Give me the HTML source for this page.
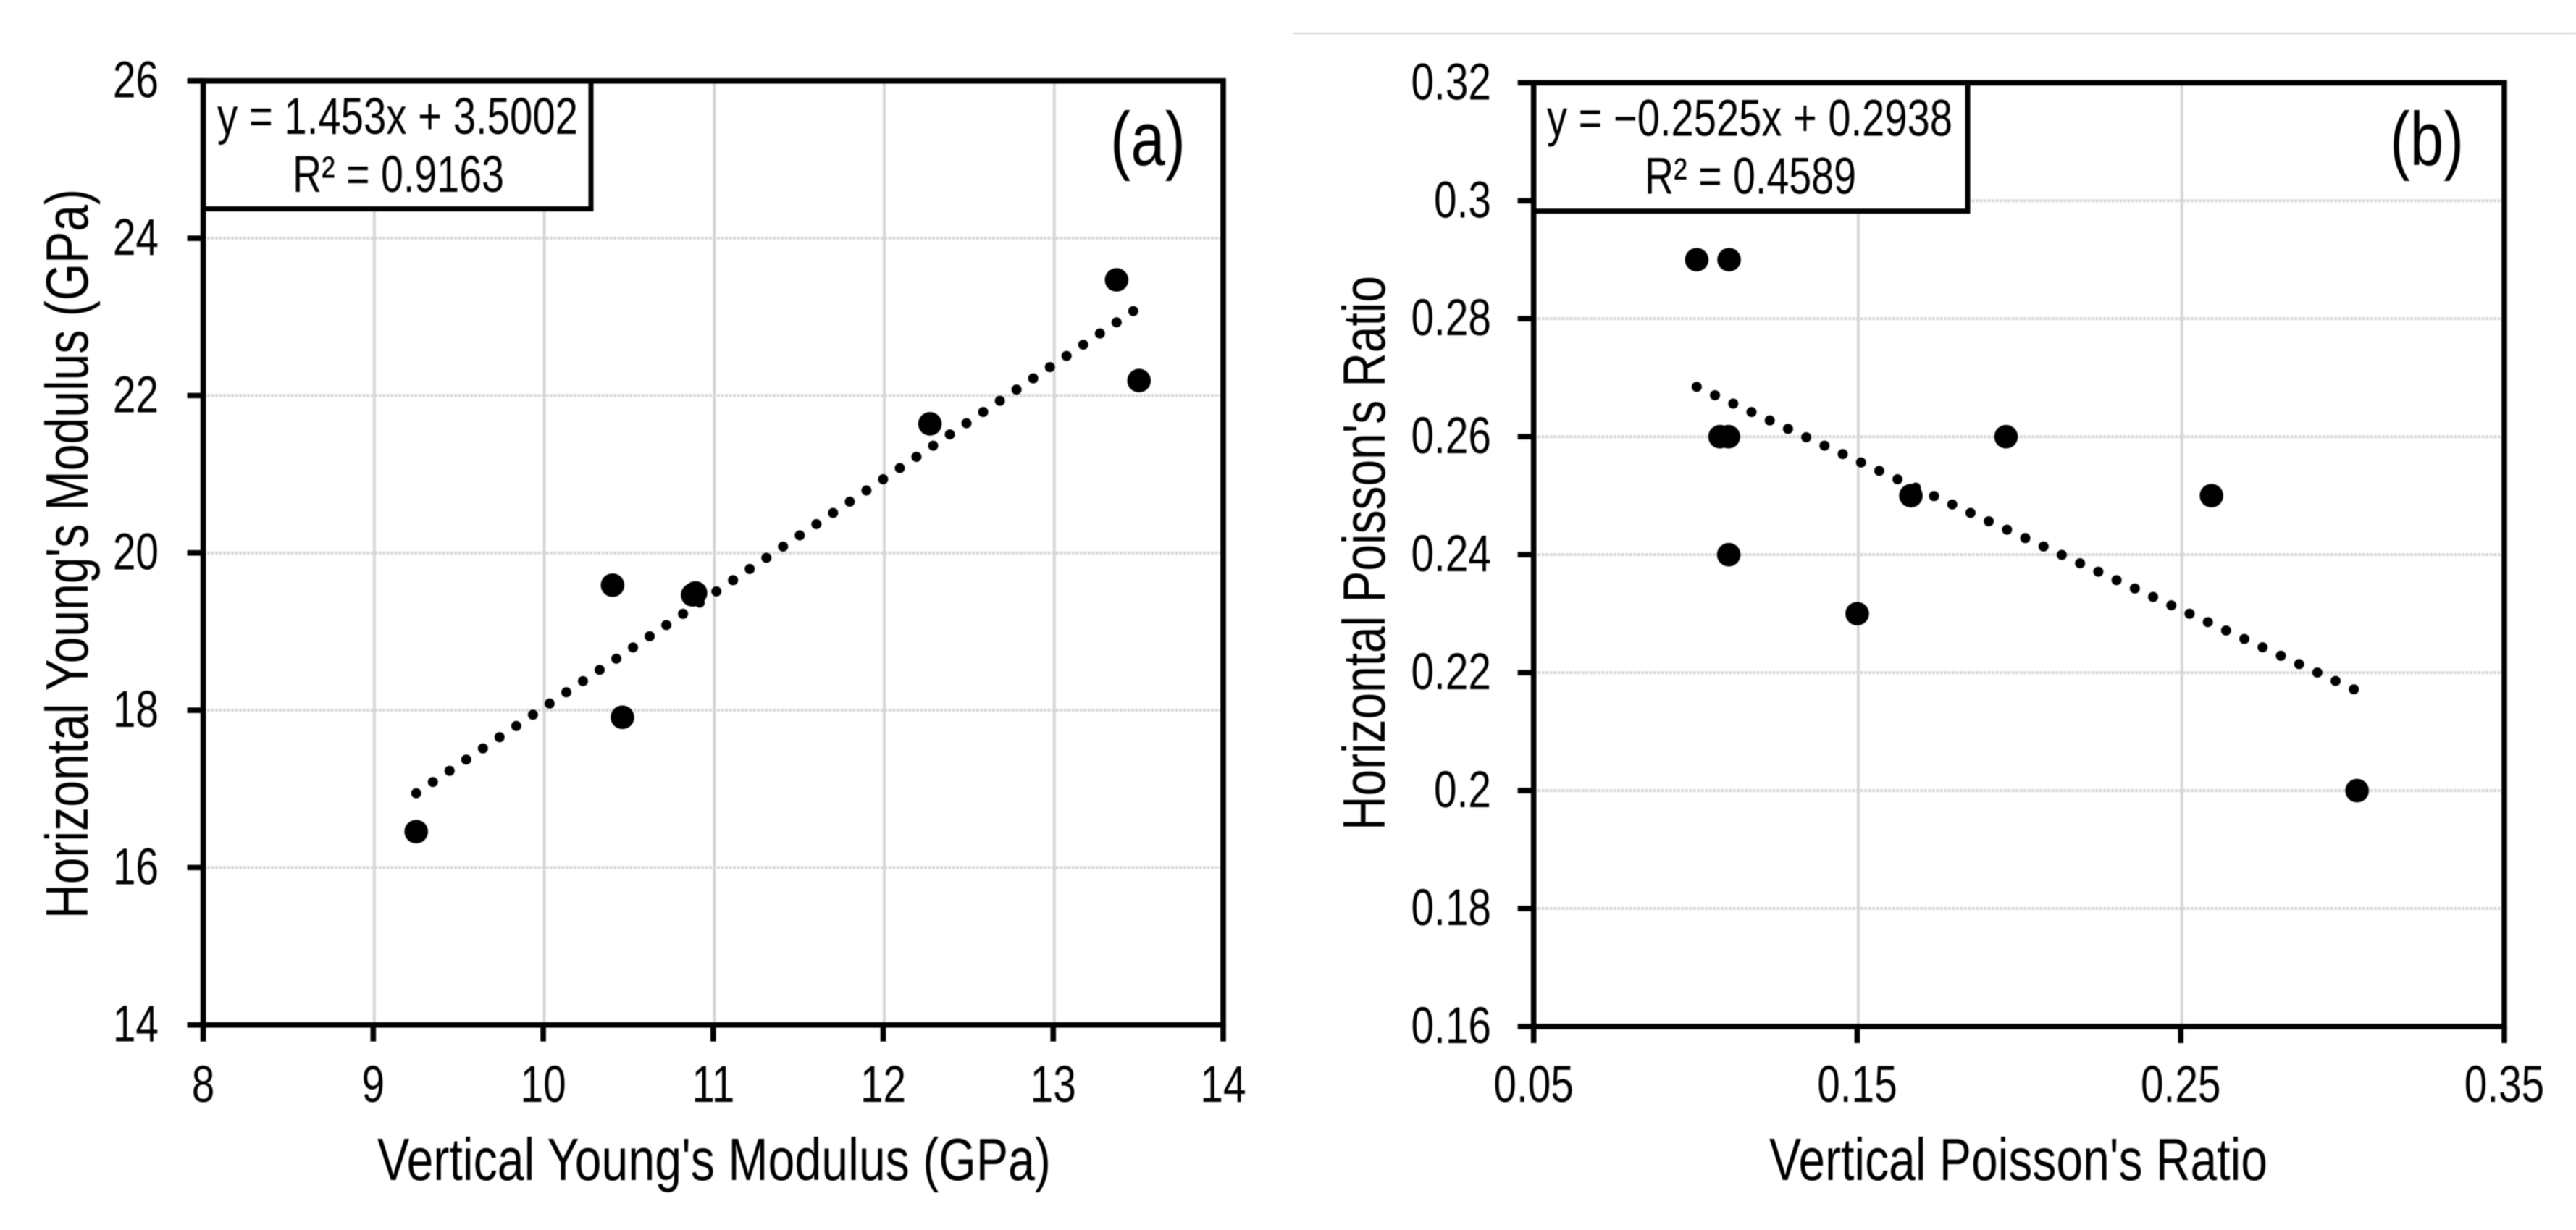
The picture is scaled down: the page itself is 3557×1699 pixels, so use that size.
<!DOCTYPE html>
<html lang="en">
<head>
<meta charset="utf-8">
<title>Young's modulus and Poisson's ratio correlations</title>
<style>
  html, body { margin: 0; padding: 0; background: #fff; }
  svg { display: block; filter: blur(0.7px); }
  text { font-family: "Liberation Sans", Arial, sans-serif; fill: #000; }
</style>
</head>
<body>
<svg id="figure" xmlns="http://www.w3.org/2000/svg" width="3557" height="1699" viewBox="0 0 3557 1699">
  <rect x="0" y="0" width="3557" height="1699" fill="#fff"/>
  <rect x="1785" y="45" width="1772" height="2" fill="#d2d2d2"/>
  <g id="chart-a"></g>
  <g id="chart-b"></g>
</svg>
<script>
// Panel (a) data
const xTickValuesA = [8, 9, 10, 11, 12, 13, 14];
const yTickValuesA = [14, 16, 18, 20, 22, 24, 26];
const xTickLabelsA = ['8', '9', '10', '11', '12', '13', '14'];
const yTickLabelsA = ['14', '16', '18', '20', '22', '24', '26'];
const pointsXA = [9.253, 10.408, 10.466, 10.879, 10.896, 12.275, 13.373, 13.505];
const pointsYA = [16.457, 19.59, 17.91, 19.466, 19.491, 21.64, 23.47, 22.19];
const trendSlopeA = 1.453;
const trendInterceptA = 3.5002;

// Panel (b) data
const xTickValuesB = [0.05, 0.15, 0.25, 0.35];
const yTickValuesB = [0.16, 0.18, 0.2, 0.22, 0.24, 0.26, 0.28, 0.3, 0.32];
const xTickLabelsB = ['0.05', '0.15', '0.25', '0.35'];
const yTickLabelsB = ['0.16', '0.18', '0.2', '0.22', '0.24', '0.26', '0.28', '0.3', '0.32'];
const pointsXB = [0.1004, 0.1104, 0.1076, 0.1102, 0.1103, 0.15, 0.1666, 0.196, 0.2595, 0.3045];
const pointsYB = [0.29, 0.29, 0.26, 0.26, 0.24, 0.23, 0.25, 0.26, 0.25, 0.2];
const trendSlopeB = -0.2525;
const trendInterceptB = 0.2938;

const SVG_NS = 'http://www.w3.org/2000/svg';

function make(parent, tag, props) {
  const el = document.createElementNS(SVG_NS, tag);
  for (const key in props) el.setAttribute(key, props[key]);
  parent.appendChild(el);
  return el;
}

function drawChart(cfg) {
  const root = document.getElementById(cfg.id);
  const sx = v => cfg.left + (v - cfg.xMin) / (cfg.xMax - cfg.xMin) * (cfg.right - cfg.left);
  const sy = v => cfg.bottom - (v - cfg.yMin) / (cfg.yMax - cfg.yMin) * (cfg.bottom - cfg.top);

  // Gridlines
  cfg.xTicks.forEach(v => {
    if (v === cfg.xMin || v === cfg.xMax) return;
    const g = make(root, 'line', { x1: sx(v) + 1.5, x2: sx(v) + 1.5, y1: cfg.top, y2: cfg.bottom, stroke: '#d6d6d6', 'stroke-width': 4 });
    
    
  });
  cfg.yTicks.forEach(v => {
    if (v === cfg.yMin || v === cfg.yMax) return;
    const g = make(root, 'line', { x1: cfg.left, x2: cfg.right, y1: sy(v), y2: sy(v), stroke: '#d6d6d6', 'stroke-width': 4, 'stroke-dasharray': '4 1.5' });
    
    
  });

  // Trendline
  const xs = cfg.pointsX;
  const tx0 = Math.min.apply(null, xs);
  const tx1 = Math.max.apply(null, xs);
  const trend = make(root, 'line', {
    x1: sx(tx0), y1: sy(cfg.slope * tx0 + cfg.intercept),
    x2: sx(tx1), y2: sy(cfg.slope * tx1 + cfg.intercept),
    stroke: '#000', 'stroke-width': 14, 'stroke-linecap': 'round', 'stroke-dasharray': '0 27.75'
  });
  
  

  // Data points
  xs.forEach((x, i) => {
    const c = make(root, 'circle', { cx: sx(x), cy: sy(cfg.pointsY[i]), r: 16.3, fill: '#000' });
    
    
  });

  // Equation box
  const box = make(root, 'rect', { x: cfg.left, y: cfg.top, width: cfg.boxRight - cfg.left, height: cfg.boxBottom - cfg.top, fill: '#fff', stroke: '#000', 'stroke-width': 7 });
  
  

  // Plot frame
  const frame = make(root, 'rect', { x: cfg.left, y: cfg.top, width: cfg.right - cfg.left, height: cfg.bottom - cfg.top, fill: 'none', stroke: '#000', 'stroke-width': 7.6 });
  
  

  // X ticks + labels
  cfg.xTicks.forEach((v, i) => {
    const t = make(root, 'line', { x1: sx(v), x2: sx(v), y1: cfg.bottom, y2: cfg.bottom + 23, stroke: '#000', 'stroke-width': 7.6 });
    
    
    const lbl = make(root, 'text', { transform: 'translate(' + sx(v) + ',1522) scale(0.8,1)', 'font-size': 71, 'text-anchor': 'middle' });
    
    
    lbl.textContent = cfg.xLabels[i];
  });

  // Y ticks + labels
  cfg.yTicks.forEach((v, i) => {
    const t = make(root, 'line', { x1: cfg.left - 22, x2: cfg.left, y1: sy(v), y2: sy(v), stroke: '#000', 'stroke-width': 7.6 });
    
    
    const lbl = make(root, 'text', { transform: 'translate(' + cfg.yLabelRight + ',' + (sy(v) + 23) + ') scale(0.8,1)', 'font-size': 71, 'text-anchor': 'end' });
    
    
    lbl.textContent = cfg.yLabels[i];
  });

  // Static labels
  cfg.texts.forEach(t => {
    const el = make(root, 'text', { 'font-size': t.size, textLength: t.len, lengthAdjust: 'spacingAndGlyphs', transform: t.tf });
    
    
    el.textContent = t.str;
  });
}

drawChart({
  id: 'chart-a',
  left: 280.6, right: 1689, top: 111.7, bottom: 1415.7,
  xMin: 8, xMax: 14, yMin: 14, yMax: 26,
  boxRight: 816, boxBottom: 288.5, yLabelRight: 219,
  xTicks: xTickValuesA, yTicks: yTickValuesA, xLabels: xTickLabelsA, yLabels: yTickLabelsA,
  pointsX: pointsXA, pointsY: pointsYA, slope: trendSlopeA, intercept: trendInterceptA,
  texts: [
    { name: 'trendline-equation', str: 'y = 1.453x + 3.5002', size: 71, len: 498, tf: 'translate(300,185)' },
    { name: 'r-squared-label', str: 'R\u00B2 = 0.9163', size: 71, len: 292, tf: 'translate(404,265)' },
    { name: 'panel-label-a', str: '(a)', size: 105, len: 104, tf: 'translate(1533,228)' },
    { name: 'x-axis-title', str: "Vertical Young's Modulus (GPa)", size: 83, len: 930, tf: 'translate(521,1630)' },
    { name: 'y-axis-title', str: "Horizontal Young's Modulus (GPa)", size: 83, len: 1008, tf: 'translate(121,1269) rotate(-90)' }
  ]
});

drawChart({
  id: 'chart-b',
  left: 2117.7, right: 3458, top: 114.3, bottom: 1418,
  xMin: 0.05, xMax: 0.35, yMin: 0.16, yMax: 0.32,
  boxRight: 2717, boxBottom: 291.7, yLabelRight: 2059,
  xTicks: xTickValuesB, yTicks: yTickValuesB, xLabels: xTickLabelsB, yLabels: yTickLabelsB,
  pointsX: pointsXB, pointsY: pointsYB, slope: trendSlopeB, intercept: trendInterceptB,
  texts: [
    { name: 'trendline-equation', str: 'y = \u22120.2525x + 0.2938', size: 71, len: 560, tf: 'translate(2136,187.7)' },
    { name: 'r-squared-label', str: 'R\u00B2 = 0.4589', size: 71, len: 292, tf: 'translate(2271,267.7)' },
    { name: 'panel-label-b', str: '(b)', size: 105, len: 102, tf: 'translate(3300,228)' },
    { name: 'x-axis-title', str: "Vertical Poisson's Ratio", size: 83, len: 688, tf: 'translate(2443,1630)' },
    { name: 'y-axis-title', str: "Horizontal Poisson's Ratio", size: 83, len: 766, tf: 'translate(1912,1147) rotate(-90)' }
  ]
});
</script>
</body>
</html>
